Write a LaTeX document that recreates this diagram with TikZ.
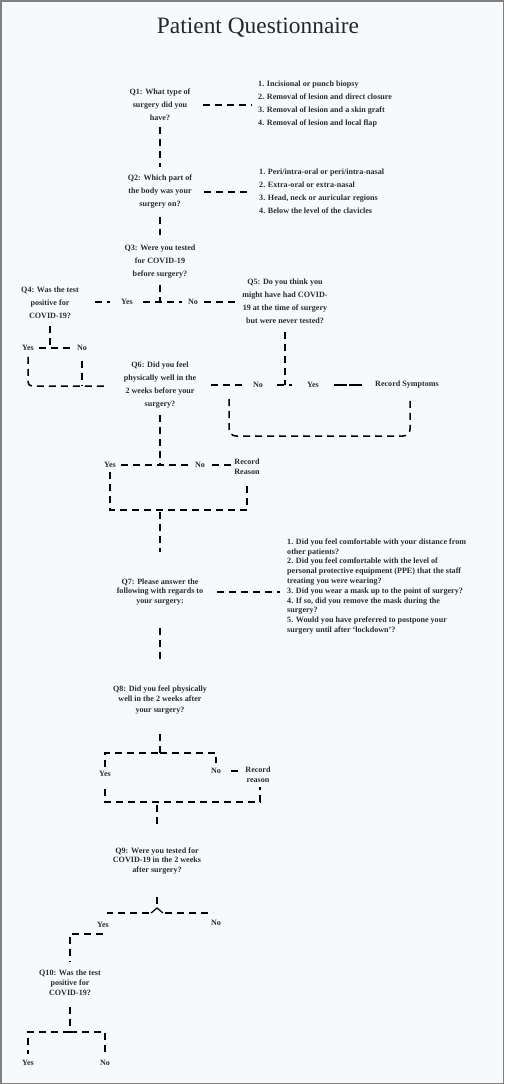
\documentclass[tikz,border=0pt]{standalone}
\usepackage{fontspec}
\setmainfont{Liberation Serif}
\usetikzlibrary{calc}
\definecolor{pagebg}{HTML}{F7FAFD}
\definecolor{inkgray}{HTML}{2C2C2C}
\newcommand{\qsize}{\bfseries\fontsize{8.1}{13}\selectfont}
\newcommand{\qsmall}{\bfseries\fontsize{8.1}{9.8}\selectfont}

\begin{document}
\begin{tikzpicture}[x=1pt,y=-1pt,
  qtext/.style={align=center, inner sep=0pt, text=inkgray, font=\qsize},
  qlow/.style={qtext, font=\qsmall},
  optlist/.style={align=left, anchor=west, inner sep=0pt, text=inkgray, font=\qsize},
  optlow/.style={optlist, font=\qsmall},
  dline/.style={line width=1.5pt, dash pattern=on 7pt off 5pt}]
			%%%%% PAGE %%%%%
			\useasboundingbox (0,0) rectangle (504,1084);
			\fill[pagebg] (0,0) rectangle (504,1084);
			\draw[line width=1.5pt, color=black!50] (0.75,0.75) rectangle (503.25,1083.25);
			
			\node[text=black!85, inner sep=0pt, font=\fontsize{23.4}{26}\selectfont] (title) at (258,28) {Patient Questionnaire};
			
			%%%%% Q1 - Q3 %%%%%
			\node[qtext] (q1) at (160,105) {Q1: What type of\\surgery did you\\have?};
			\node[optlist] (o1) at (258,104.5) {1. Incisional or punch biopsy\\2. Removal of lesion and direct closure\\3. Removal of lesion and a skin graft\\4. Removal of lesion and local flap};
			\node[qtext] (q2) at (160,192) {Q2: Which part of\\the body was your\\surgery on?};
			\node[optlist] (o2) at (259,191) {1. Peri/intra-oral or peri/intra-nasal\\2. Extra-oral or extra-nasal\\3. Head, neck or auricular regions\\4. Below the level of the clavicles};
			\node[qtext] (q3) at (160,262) {Q3: Were you tested\\for COVID-19\\before surgery?};
			
			\draw[dline, shorten <=12pt, shorten >=6pt] (q1.east) -- (q1.east -| o1.west);
			\draw[dline, shorten <=6pt, shorten >=8pt] (q1) -- (q2);
			\draw[dline, shorten <=12pt, shorten >=7pt] (q2.east) -- (q2.east -| o2.west);
			\draw[dline, shorten <=8pt, shorten >=10pt] (q2) -- (q3);
			
			\coordinate (j3) at (160,302);
			\draw[dline, shorten <=6pt] (q3) -- (j3);
			\node[qtext] (yes3) at (127,302) {Yes};
			\node[qtext] (no3) at (193,302) {No};
			\draw[dline, shorten <=10pt, shorten >=6pt] (yes3.east) -- (no3.west);
			
			%%%%% Q4 / Q5 %%%%%
			\node[qtext] (q4) at (50,303) {Q4: Was the test\\positive for\\COVID-19?};
			\node[qtext] (q5) at (285,301.5) {Q5: Do you think you\\might have had COVID-\\19 at the time of surgery\\but were never tested?};
			\draw[dline, shorten <=16pt, shorten >=11pt] (q4.east |- yes3) -- (yes3.west);
			\draw[dline, shorten <=6pt, shorten >=5pt] (no3.east) -- (q5.west |- no3);
			
			\coordinate (j4) at (50,348);
			\draw[dline, shorten <=7pt] (q4) -- (j4);
			\node[qtext] (yes4) at (28,348) {Yes};
			\node[qtext] (no4) at (82,348) {No};
			\draw[dline, shorten <=5pt, shorten >=5pt] (yes4.east) -- (no4.west);
			\coordinate (q6in) at (108,386);
			\draw[dline, rounded corners=4pt, shorten <=6pt] (yes4.south) |- (q6in);
			\draw[dline, shorten <=10pt] (no4.south) -- (no4.south |- q6in);
			
			%%%%% Q6 %%%%%
			\node[qtext] (q6) at (160,385.5) {Q6: Did you feel\\physically well in the\\2 weeks before your\\surgery?};
			\node[qtext] (no6) at (258,385) {No};
			\node[qtext] (yes5) at (313,385) {Yes};
			\node[qtext, anchor=west] (recsym) at (375,385) {Record Symptoms};
			\coordinate (j5) at (285,385);
			\draw[dline, shorten <=15pt, shorten >=6pt] (q6.east |- no6) -- (no6.west);
			\draw[dline, shorten <=8pt] (q5.south) -- (j5);
			\draw[dline, shorten <=14pt, shorten >=15pt] (no6.east) -- (yes5.west);
			\draw[line width=1.5pt, dash pattern=on 13pt off 2pt, shorten <=15pt, shorten >=13pt] (yes5.east) -- (recsym.west);
			\draw[dline, rounded corners=7pt] ($(recsym.south)+(3,12)$) |- (229,436) -- (229,398);
			
			\coordinate (j6) at (160,465);
			\draw[dline, shorten <=6pt] (q6) -- (j6);
			\node[qtext] (yes6) at (110,465) {Yes};
			\node[qtext] (no6b) at (200,465) {No};
			\node[qlow] (recreason) at (247,466.5) {Record\\Reason};
			\draw[dline, shorten <=5pt, shorten >=5pt] (yes6.east) -- (no6b.west);
			\draw[dline, shorten <=7pt, shorten >=2pt] (no6b.east) -- (recreason.west |- no6b);
			\coordinate (b6) at (160,510);
			\draw[dline, shorten <=4pt] (yes6.south) |- (b6) -| ($(recreason.south)+(0,7)$);
			
			%%%%% Q7 %%%%%
			\node[qlow] (q7) at (160,592) {Q7: Please answer the\\following with regards to\\your surgery:};
			\node[optlow] (o7) at (287,586.5) {1. Did you feel comfortable with your distance from\\other patients?\\2. Did you feel comfortable with the level of\\personal protective equipment (PPE) that the staff\\treating you were wearing?\\3. Did you wear a mask up to the point of surgery?\\4. If so, did you remove the mask during the\\surgery?\\5. Would you have preferred to postpone your\\surgery until after `lockdown'?};
			\draw[dline, shorten <=2pt, shorten >=26pt] (b6) -- (q7.north);
			\draw[dline, shorten <=14pt, shorten >=7pt] (q7.east) -- (q7.east -| o7.west);
			
			%%%%% Q8 %%%%%
			\node[qlow, font=\bfseries\fontsize{8.1}{10.3}\selectfont] (q8) at (160,700) {Q8: Did you feel physically\\well in the 2 weeks after\\your surgery?};
			\draw[dline, shorten <=22pt, shorten >=23pt] (q7) -- (q8);
			\coordinate (j8) at (160,753);
			\draw[dline, shorten <=20pt] (q8) -- (j8);
			\node[qtext] (yes8) at (105,774) {Yes};
			\node[qtext] (no8) at (216,771) {No};
			\node[qlow] (recreason8) at (258,775) {Record\\reason};
			\draw[dline, shorten <=4pt] (yes8.north) |- (j8);
			\draw[dline, shorten >=5pt] (j8) -| (no8.north);
			\draw[line width=1.5pt, shorten <=10pt, shorten >=7pt] (no8.east) -- (recreason8.west |- no8);
			\coordinate (b8) at (157,802);
			\draw[dline, shorten <=12pt] (yes8.south) |- (b8) -| ($(recreason8.south)+(2,4)$);
			
			%%%%% Q9 %%%%%
			\node[qlow] (q9) at (157,861) {Q9: Were you tested for\\COVID-19 in the 2 weeks\\after surgery?};
			\draw[dline, shorten <=3pt, shorten >=22pt] (b8) -- (q9.north);
			\coordinate (j9) at (157,908);
			\draw[dline, shorten <=22pt] (q9) -- (j9);
			\draw[line width=1.2pt] ($(j9)+(-6,5)$) -- (j9) -- ($(j9)+(6,5)$);
			\draw[dline] ($(j9)+(-8,5)$) -- ++(-42,0);
			\draw[dline] ($(j9)+(8,5)$) -- ++(48,0);
			\node[qtext] (yes9) at (103,925) {Yes};
			\node[qtext] (no9) at (216,923) {No};
			
			%%%%% Q10 %%%%%
			\node[qlow, font=\bfseries\fontsize{8.1}{10}\selectfont] (q10) at (70,983) {Q10: Was the test\\positive for\\COVID-19?};
			\draw[dline, shorten >=8pt] ($(yes9.south)+(0,6)$) -| (q10.north);
			\coordinate (j10) at (70,1032);
			\draw[dline, shorten <=11pt] (q10) -- (j10);
			\node[qtext] (yes10) at (28,1063) {Yes};
			\node[qtext] (no10) at (105,1063) {No};
			\draw[dline, shorten >=6pt] (j10) -| (yes10.north);
			\draw[dline, shorten >=4pt] (j10) -| (no10.north);
			%%%%% END %%%%%
\end{tikzpicture}
\end{document}
